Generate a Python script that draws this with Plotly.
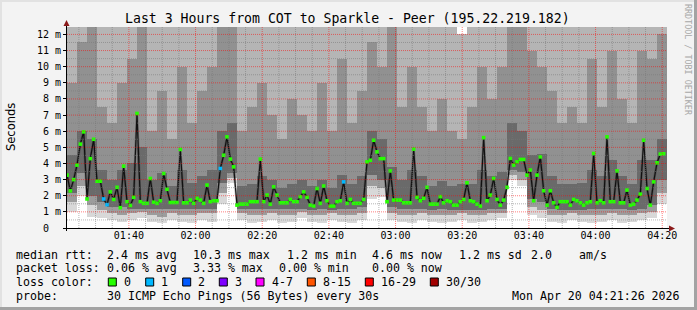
import numpy as np
import pandas as pd
import plotly.graph_objects as go

# ---------------- data ----------------
title = "Last 3 Hours from COT to Sparkle - Peer (195.22.219.182)"
start = pd.Timestamp("2026-04-20 01:21:26")
end = pd.Timestamp("2026-04-20 04:21:26")

# median RTT (ms), one value per minute starting at 01:21:26
median_ms = [
    3.28, 2.3, 3.0, 3.9, 5.2, 5.96, 1.8, 4.3, 5.5, 2.9,
    2.9, 1.8, 1.45, 2.24, 1.77, 2.52, 1.26, 3.83, 1.63, 1.4,
    1.9, 7.1, 1.63, 1.53, 1.53, 3.07, 1.6, 1.53, 1.69, 3.38,
    2.4, 1.58, 1.58, 1.58, 4.87, 1.56, 1.56, 1.73, 1.53, 1.84,
    1.73, 1.53, 2.66, 1.63, 1.69, 1.69, 3.69, 4.51, 5.65, 4.27,
    3.79, 1.42, 1.48, 1.48, 1.48, 1.63, 1.63, 1.63, 4.27, 1.63,
    2.04, 1.48, 2.55, 2.04, 1.56, 1.56, 1.56, 1.77, 1.63, 1.63,
    1.94, 2.24, 1.9, 1.42, 1.36, 2.45, 1.53, 2.6, 1.69, 1.36,
    1.36, 1.63, 1.69, 2.86, 1.53, 1.77, 1.53, 1.53, 1.53, 1.77,
    4.1, 4.2, 5.44, 4.72, 4.3, 4.3, 1.63, 3.54, 1.73, 1.73,
    1.73, 1.56, 1.56, 1.56, 4.89, 1.9, 1.69, 1.84, 2.52, 1.48,
    1.48, 1.48, 1.94, 1.56, 1.69, 1.63, 1.42, 1.42, 1.63, 1.77,
    2.8, 1.69, 1.63, 1.48, 1.36, 5.6, 1.69, 2.04, 3.07, 1.77,
    1.42, 1.73, 2.52, 4.31, 3.9, 4.1, 4.25, 4.25, 3.28, 3.59,
    1.69, 3.28, 4.41, 2.31, 1.42, 2.31, 1.56, 1.28, 1.63, 1.63,
    1.63, 1.42, 1.77, 1.69, 1.56, 1.42, 1.56, 1.63, 4.62, 1.56,
    1.69, 1.56, 5.65, 1.63, 1.63, 3.54, 1.56, 1.56, 2.35, 1.42,
    1.48, 1.73, 2.1, 5.44, 2.45, 1.42, 2.86, 4.04, 4.58, 4.6,
]
# steps with lost pings (index into median_ms) and number lost
loss_idx = [11, 12, 46, 83]
loss_cnt = [1, 1, 1, 1]

# smoke: distribution of the 30 pings, one column per 3 minutes (ms)
smoke_lo = [1.0, 2.0, 0.7, 0.6, 0.5, 0.4, 0.5, 0.6, 0.4, 0.3,
            0.5, 0.4, 0.3, 0.5, 0.4, 1.5, 2.8, 0.5, 0.3, 0.4,
            0.5, 0.3, 0.4, 0.6, 0.4, 0.3, 0.5, 0.4, 0.3, 0.5,
            1.8, 1.9, 0.5, 0.4, 0.3, 0.5, 0.4, 0.3, 0.4, 0.5,
            0.3, 0.4, 0.5, 0.6, 3.0, 2.6, 0.8, 0.6, 0.4, 0.3,
            0.5, 0.4, 0.3, 0.4, 0.5, 0.3, 0.4, 0.5, 0.6, 1.5]
smoke_q10 = [1.6, 2.6, 1.4, 1.1, 0.9, 0.8, 0.9, 1.0, 0.8, 0.7,
             0.9, 0.8, 0.8, 0.9, 0.9, 2.2, 3.1, 0.9, 0.8, 0.8,
             0.9, 0.8, 0.8, 1.0, 0.8, 0.8, 0.9, 0.8, 0.8, 0.9,
             2.6, 2.5, 0.9, 0.8, 0.8, 0.9, 0.8, 0.8, 0.8, 0.9,
             0.8, 0.8, 0.9, 0.9, 3.3, 3.0, 1.3, 1.1, 0.8, 0.8,
             0.9, 0.8, 0.8, 0.8, 0.9, 0.8, 0.8, 0.9, 1.0, 2.2]
smoke_q25 = [2.2, 3.4, 2.0, 1.6, 1.3, 1.3, 1.2, 1.2, 1.2, 1.2,
             1.2, 1.2, 1.2, 1.2, 1.2, 2.8, 3.4, 1.2, 1.2, 1.2,
             1.2, 1.2, 1.2, 1.2, 1.1, 1.2, 1.1, 1.2, 1.2, 1.3,
             3.3, 3.0, 1.3, 1.2, 1.2, 1.2, 1.1, 1.2, 1.1, 1.1,
             1.1, 1.1, 1.2, 1.2, 3.6, 3.5, 1.8, 1.6, 1.2, 1.1,
             1.1, 1.1, 1.2, 1.2, 1.2, 1.2, 1.1, 1.2, 1.4, 3.0]
smoke_q75 = [4.5, 6.0, 5.5, 3.6, 3.0, 3.6, 4.0, 5.0, 3.0, 3.4,
             2.6, 3.6, 2.8, 3.2, 3.6, 6.0, 6.5, 2.6, 2.7, 3.2,
             3.0, 2.5, 2.7, 3.0, 2.6, 3.0, 2.5, 3.3, 2.7, 3.2,
             6.0, 5.5, 3.8, 3.0, 3.6, 3.2, 2.6, 2.9, 2.6, 2.7,
             2.7, 3.6, 3.2, 3.5, 6.5, 6.0, 4.5, 4.6, 3.2, 2.7,
             2.7, 2.8, 3.6, 3.2, 4.2, 3.2, 2.7, 4.2, 4.2, 5.5]
smoke_q90 = [9.0, 11.5, 12.5, 7.5, 6.5, 9.0, 10.5, 12.5, 6.0, 8.5,
             5.5, 10.0, 6.5, 8.5, 10.0, 12.5, 12.5, 6.0, 7.5, 9.0,
             7.0, 5.5, 8.0, 7.0, 6.0, 9.0, 6.0, 10.5, 6.5, 8.5,
             11.5, 10.0, 12.5, 7.5, 10.0, 7.5, 6.0, 8.0, 6.0, 5.5,
             7.5, 10.0, 8.0, 10.0, 12.5, 12.5, 11.0, 10.0, 8.5, 6.5,
             7.5, 6.5, 10.5, 7.5, 11.0, 8.0, 6.5, 11.0, 10.5, 12.0]
smoke_hi = [13.0, 13.0, 13.0, 13.0, 13.0, 13.0, 13.0, 12.8, 13.0, 13.0,
            13.0, 13.0, 13.0, 13.0, 13.0, 13.0, 13.0, 13.0, 13.0, 13.0,
            13.0, 13.0, 13.0, 13.0, 13.0, 13.0, 13.0, 13.0, 13.0, 13.0,
            13.0, 13.0, 13.0, 13.0, 13.0, 13.0, 13.0, 13.0, 13.0, 12.0,
            13.0, 13.0, 13.0, 13.0, 13.0, 13.0, 13.0, 13.0, 13.0, 13.0,
            13.0, 13.0, 13.0, 13.0, 13.0, 13.0, 13.0, 13.0, 13.0, 13.0]

loss_labels = ["0", "1", "2", "3", "4-7", "8-15", "16-29", "30/30"]
loss_colors = ["#26ff00", "#00b8ff", "#0059ff", "#7e00ff", "#ff00ff", "#ff5500", "#ff0000", "#a10000"]

stats_rtt = ["median rtt:", "2.4 ms avg", "10.3 ms max", "1.2 ms min", "4.6 ms now", "1.2 ms sd", "2.0", "am/s"]
stats_loss = ["packet loss:", "0.06 % avg", "3.33 % max", "0.00 % min", "0.00 % now"]
probe_text = ["probe:", "30 ICMP Echo Pings (56 Bytes) every 30s"]
stamp = "Mon Apr 20 04:21:26 2026"

# ---------------- geometry ----------------
W, H = 697, 310
L, R, T, B = 67, 30, 27, 82
PW, PH = W - L - R, H - T - B
YMAX = 12.46


def px(x):
    return (x - L) / PW


def py(y):
    return (H - B - y) / PH


MONO = "DejaVu Sans Mono"
fig = go.Figure()

t_med = start + pd.to_timedelta(np.arange(len(median_ms)), unit="min")
t_col = start + pd.to_timedelta(np.arange(len(smoke_lo)) * 3 + 1.5, unit="min")
col_w = 3 * 60 * 1000 * 1.02

bands = [
    (smoke_lo, smoke_q10, "#d8d8d8"),
    (smoke_q10, smoke_q25, "#9c9c9c"),
    (smoke_q25, smoke_q75, "#6a6a6a"),
    (smoke_q75, smoke_q90, "#919191"),
    (smoke_q90, smoke_hi, "#b5b5b5"),
]
for lo, hi, c in bands:
    lo = np.array(lo)
    hi = np.array(hi)
    fig.add_bar(x=t_col, y=hi - lo, base=lo, width=col_w,
                marker=dict(color=c, line=dict(width=0)),
                hoverinfo="skip", showlegend=False)

fig.add_scatter(x=t_med, y=median_ms, mode="lines",
                line=dict(color="rgba(40,40,40,0.35)", width=2.5),
                hoverinfo="skip", showlegend=False)
fig.add_scatter(x=t_med, y=median_ms, mode="lines",
                line=dict(color="#111111", width=1.2),
                hoverinfo="skip", showlegend=False)

pt_colors = [loss_colors[0]] * len(median_ms)
for i, n in zip(loss_idx, loss_cnt):
    pt_colors[i] = loss_colors[n]
fig.add_scatter(x=t_med, y=median_ms, mode="markers",
                marker=dict(symbol="square", size=3.6, color=pt_colors, line=dict(width=0)),
                showlegend=False)

shapes = []
# grid (drawn above the smoke like rrdtool)
for t in pd.date_range("2026-04-20 01:25", "2026-04-20 04:20", freq="5min"):
    major = t.minute % 20 == 0
    shapes.append(dict(type="line", xref="x", yref="paper", x0=t, x1=t, y0=0, y1=1, layer="above",
                       line=dict(color="rgba(255,0,0,0.5)" if major else "rgba(120,120,120,0.55)",
                                 width=1, dash="1px,1px")))
for k in range(1, 25):
    v = k * 0.5
    major = k % 2 == 0
    shapes.append(dict(type="line", xref="paper", yref="y", x0=0, x1=1, y0=v, y1=v, layer="above",
                       line=dict(color="rgba(255,0,0,0.5)" if major else "rgba(120,120,120,0.55)",
                                 width=1, dash="1px,1px")))
# axes
shapes.append(dict(type="line", xref="paper", yref="paper", x0=px(63), x1=px(670), y0=py(228.5), y1=py(228.5),
                   line=dict(color="black", width=1), layer="above"))
shapes.append(dict(type="line", xref="paper", yref="paper", x0=px(66.5), x1=px(66.5), y0=py(231), y1=py(24),
                   line=dict(color="black", width=1), layer="above"))
arrow_col = "#8b1a1a"
shapes.append(dict(type="path", xref="paper", yref="paper",
                   path=f"M {px(63.5)},{py(26)} L {px(69.5)},{py(26)} L {px(66.5)},{py(20)} Z",
                   fillcolor=arrow_col, line=dict(width=0), layer="above"))
shapes.append(dict(type="path", xref="paper", yref="paper",
                   path=f"M {px(669)},{py(225.5)} L {px(669)},{py(231.5)} L {px(675)},{py(228.5)} Z",
                   fillcolor=arrow_col, line=dict(width=0), layer="above"))
# frame
shapes.append(dict(type="rect", xref="paper", yref="paper", x0=px(694), x1=px(697), y0=py(0), y1=py(310),
                   fillcolor="#a3a3a3", line=dict(width=0)))
shapes.append(dict(type="rect", xref="paper", yref="paper", x0=px(0), x1=px(697), y0=py(307), y1=py(310),
                   fillcolor="#a3a3a3", line=dict(width=0)))
shapes.append(dict(type="rect", xref="paper", yref="paper", x0=px(0), x1=px(694), y0=py(0), y1=py(2),
                   fillcolor="#e2e2e2", line=dict(width=0)))
shapes.append(dict(type="rect", xref="paper", yref="paper", x0=px(0), x1=px(2), y0=py(0), y1=py(307),
                   fillcolor="#e2e2e2", line=dict(width=0)))

annotations = []


def text(x, y, s, size=11.6, anchor="left", color="black", family=MONO, angle=0):
    annotations.append(dict(x=px(x), y=py(y), xref="paper", yref="paper", text=s, showarrow=False,
                            xanchor=anchor, yanchor="middle", textangle=angle,
                            font=dict(family=family, size=size, color=color),
                            borderpad=0, borderwidth=0))


text(347, 19, title, size=13.2, anchor="center")
text(10.5, 127.5, "Seconds", size=11.5, anchor="center", family="DejaVu Sans", angle=-90)
text(688.5, 59.5, "RRDTOOL / TOBI OETIKER", size=8.4, anchor="center", color="#a8a8a8", angle=90)

row_y = [254.7, 268.3, 282.0, 296.0]
for s, x in zip(stats_rtt, [16, 107.3, 192.7, 286.7, 372.3, 459, 530.7, 579.3]):
    text(x, row_y[0], s)
for s, x in zip(stats_loss, [16, 107.3, 192.7, 279.3, 372.3]):
    text(x, row_y[1], s)
text(16, row_y[2], "loss color:")
sq_x = [108.3, 145.7, 182.7, 219.3, 256, 307.3, 365.3, 430.3]
for lab, col, x in zip(loss_labels, loss_colors, sq_x):
    shapes.append(dict(type="rect", xref="paper", yref="paper", x0=px(x), x1=px(x + 8),
                       y0=py(row_y[2] + 4), y1=py(row_y[2] - 4),
                       fillcolor=col, line=dict(color="black", width=1)))
    text(x + 15.5, row_y[2], lab)
text(16, row_y[3], probe_text[0])
text(107.3, row_y[3], probe_text[1])
text(680, row_y[3], stamp, anchor="right")

yt = list(range(0, 13))
ytext = [f"{v} m" if v else "0\u00a0\u00a0" for v in yt]

fig.update_layout(
    width=W, height=H,
    margin=dict(l=L, r=R, t=T, b=B, pad=0, autoexpand=False),
    paper_bgcolor="#f3f3f3", plot_bgcolor="#ffffff",
    barmode="overlay", bargap=0, showlegend=False,
    shapes=shapes, annotations=annotations,
    xaxis=dict(type="date", range=[start, end], tickformat="%H:%M", dtick=20 * 60 * 1000,
               tick0="2026-04-20 01:40:00", showgrid=False, zeroline=False, showline=False,
               ticks="", tickfont=dict(family=MONO, size=10, color="black"), fixedrange=True),
    yaxis=dict(range=[0, YMAX], tickvals=yt, ticktext=ytext, showgrid=False, zeroline=False,
               showline=False, ticks="outside", ticklen=3, tickcolor="black",
               tickfont=dict(family=MONO, size=10, color="black"), fixedrange=True),
)

fig.write_html("out.html")
